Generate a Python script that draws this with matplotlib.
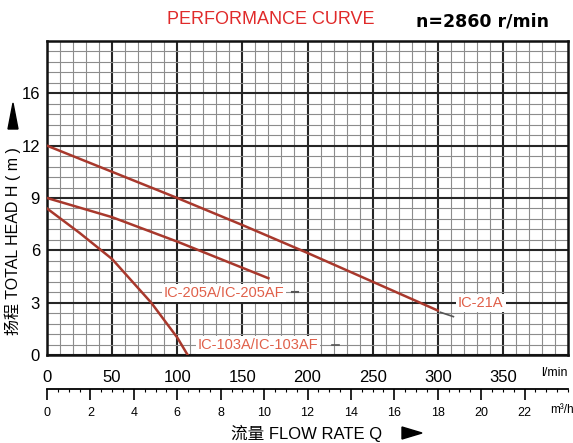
import numpy as np
import matplotlib
matplotlib.use('Agg')
import matplotlib.pyplot as plt
from matplotlib.patches import Polygon

# Curve data (Q in l/min, H in m)
q_21a = [0, 50, 100, 150, 200, 250, 300]
h_21a = [12.0, 10.5, 9.0, 7.45, 5.85, 4.2, 2.55]

q_205 = [0, 25, 50, 100, 150, 170]
h_205 = [9.0, 8.45, 7.9, 6.5, 5.0, 4.4]

q_103 = [0, 25, 50, 80, 100, 108]
h_103 = [8.4, 7.0, 5.5, 3.0, 1.0, 0.0]

xticks = [0, 50, 100, 150, 200, 250, 300, 350]
yticks = [0, 3, 6, 9, 12, 15]
ytick_labels = ['0', '3', '6', '9', '12', '16']   # printed as 16 on the original
m3h_ticks = [0, 2, 4, 6, 8, 10, 12, 14, 16, 18, 20, 22]

curve_color = '#a8382c'
label_color = '#e0604a'
latin = ['Liberation Sans', 'Noto Sans CJK SC', 'DejaVu Sans']

W, H = 573, 443
fig = plt.figure(figsize=(W / 100, H / 100), dpi=100)
ax = fig.add_axes([47 / W, 1 - 355 / H, 521 / W, 314 / H])

ax.plot(q_21a, h_21a, color=curve_color, lw=1.8, zorder=3)
ax.plot(q_205, h_205, color=curve_color, lw=1.8, zorder=3)
ax.plot(q_103, h_103, color=curve_color, lw=1.8, zorder=3)

ax.set_xlim(0, 400)
ax.set_ylim(0, 18)
ax.set_xticks(xticks)
ax.set_xticks(np.arange(0, 401, 10), minor=True)
ax.set_yticks(yticks, ytick_labels)
ax.set_yticks(np.arange(0, 18.01, 0.6), minor=True)
ax.set_axisbelow(True)
ax.grid(which='minor', color='#8c8c8c', lw=0.8)
ax.grid(which='major', color='#262626', lw=1.5)
ax.tick_params(which='both', length=0)
ax.tick_params(axis='x', pad=11)
ax.tick_params(axis='y', pad=5)
for lab in ax.get_xticklabels() + ax.get_yticklabels():
    lab.set_fontfamily(latin)
    lab.set_fontsize(12)
for sp in ax.spines.values():
    sp.set_linewidth(1.8)
    sp.set_color('#111111')

# curve labels
box = dict(facecolor='white', edgecolor='none', pad=1.5)
ax.text(333, 3.0, 'IC-21A', color=label_color, fontsize=10.5, family=latin,
        ha='center', va='center', bbox=box, zorder=4)
ax.text(136, 3.55, 'IC-205A/IC-205AF', color=label_color, fontsize=10.5,
        family=latin, ha='center', va='center', bbox=box, zorder=4)
ax.text(162, 0.57, 'IC-103A/IC-103AF', color=label_color, fontsize=10.5,
        family=latin, ha='center', va='center', bbox=box, zorder=4)
ax.plot([302, 312], [2.45, 2.2], color='#555555', lw=1.2, zorder=4)
ax.plot([188, 193], [3.6, 3.6], color='#555555', lw=1.5, zorder=4)
ax.plot([219, 224], [0.57, 0.57], color='#555555', lw=1.2, zorder=4)

# l/min unit
ax.text(379, -1.05, 'l/min', fontsize=9, family=latin, ha='left', va='center',
        clip_on=False)

# m3/h scale
sec = ax.secondary_xaxis(-0.108, functions=(lambda q: q * 0.06, lambda m: m / 0.06))
sec.set_xticks(m3h_ticks)
sec.set_xticks(np.arange(0, 24.1, 0.5), minor=True)
sec.tick_params(which='major', direction='out', length=8, width=1.2, pad=5,
                labelsize=9)
sec.tick_params(which='minor', direction='out', length=2, width=0.8)
sec.spines['bottom'].set_linewidth(1.3)
for lab in sec.get_xticklabels():
    lab.set_fontfamily(latin)
fig.text(550 / W, 1 - 410 / H, 'm³/h', fontsize=8.5, family=latin,
         ha='left', va='center')

# titles
fig.text(271 / W, 1 - 20 / H, 'PERFORMANCE CURVE', color='#e02a2a',
         fontsize=13, family=latin, ha='center', va='center')
fig.text(483 / W, 1 - 21 / H, 'n=2860 r/min', fontsize=12.5,
         fontweight='bold', family='DejaVu Sans', ha='center', va='center')

# axis titles with arrows
fig.text(13 / W, 1 - 241 / H, '扬程 TOTAL HEAD H ( m )', rotation=90,
         fontsize=11.5, family=latin, ha='center', va='center')
fig.patches.append(Polygon([[13 / W, 1 - 103 / H], [8 / W, 1 - 129 / H],
                            [18 / W, 1 - 129 / H]], closed=True,
                           transform=fig.transFigure, color='black'))
fig.text(307 / W, 1 - 433 / H, '流量 FLOW RATE Q', fontsize=12, family=latin,
         ha='center', va='center')
fig.patches.append(Polygon([[422 / W, 1 - 433 / H], [402 / W, 1 - 427 / H],
                            [402 / W, 1 - 439 / H]], closed=True,
                           transform=fig.transFigure, color='black'))

fig.savefig('out.png', dpi=100)
